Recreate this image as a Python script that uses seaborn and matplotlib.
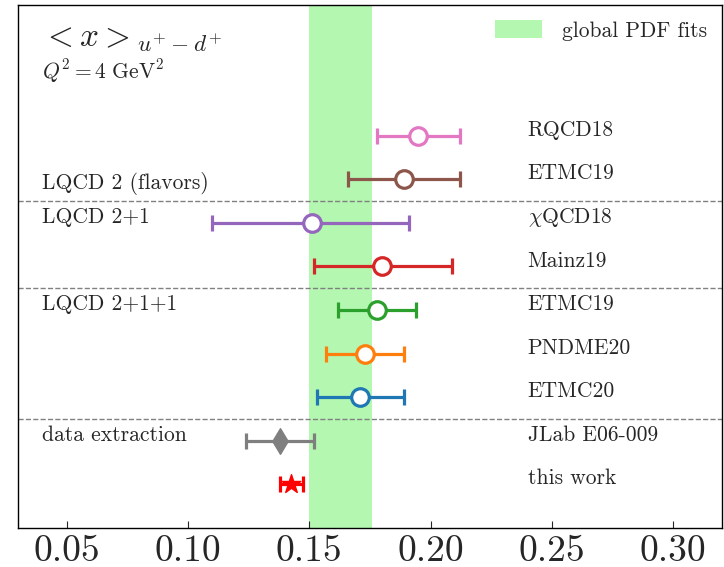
import matplotlib
matplotlib.use("Agg")
import matplotlib.pyplot as plt
import seaborn as sns
import pandas as pd
import numpy as np

# ---- data ----
labels = ["RQCD18", "ETMC19", r"$\chi$QCD18", "Mainz19", "ETMC19",
          "PNDME20", "ETMC20", "JLab E06-009", "this work"]
values = [0.195, 0.189, 0.151, 0.180, 0.178, 0.173, 0.171, 0.138, 0.1425]
err_lo = [0.017, 0.023, 0.041, 0.028, 0.016, 0.016, 0.018, 0.014, 0.0045]
err_hi = [0.017, 0.023, 0.040, 0.029, 0.016, 0.016, 0.018, 0.014, 0.0050]
colors = ["#e377c2", "#8c564b", "#9467bd", "#d62728", "#2ca02c",
          "#ff7f0e", "#1f77b4", "#7f7f7f", "#ff0000"]
markers = ["o", "o", "o", "o", "o", "o", "o", "d", "*"]
filled = [False] * 7 + [True, True]
rows = [8, 7, 6, 5, 4, 3, 2, 1, 0]
group_labels = ["LQCD 2 (flavors)", "LQCD 2+1", "LQCD 2+1+1", "data extraction"]
group_rows = [6.91, 6.13, 4.13, 1.12]
separators = [6.5, 4.5, 1.5]
band = (0.150, 0.176)
xticks = [0.05, 0.10, 0.15, 0.20, 0.25, 0.30]

sns.set_style("white")
plt.rcParams["font.family"] = ["cmr10", "DejaVu Serif"]
plt.rcParams["mathtext.fontset"] = "cm"
plt.rcParams["axes.formatter.use_mathtext"] = True

df = pd.DataFrame({"label": labels, "value": values, "lo": err_lo, "hi": err_hi,
                   "row": rows, "color": colors, "marker": markers, "filled": filled})

fig, ax = plt.subplots(figsize=(7.24, 5.67), dpi=100)
fig.subplots_adjust(left=0.025, right=0.997, top=0.991, bottom=0.069)

ax.axvspan(band[0], band[1], color="#b3f7b0", lw=0, zorder=0, label="global PDF fits")

for _, r in df.iterrows():
    ax.errorbar(r["value"], r["row"], xerr=[[r["lo"]], [r["hi"]]], fmt="none",
                ecolor=r["color"], elinewidth=2.3, capsize=5.5, capthick=2.3, zorder=2)
    sub = df[df["label"].eq(r["label"]) & df["row"].eq(r["row"])]
    if r["filled"]:
        sns.scatterplot(data=sub, x="value", y="row", ax=ax, marker=r["marker"],
                        s=200 if r["marker"] == "*" else 170, color=r["color"],
                        edgecolor=r["color"], linewidth=1, zorder=3, legend=False)
    else:
        sns.scatterplot(data=sub, x="value", y="row", ax=ax, marker="o", s=160,
                        facecolor="white", edgecolor=r["color"], linewidth=2.3,
                        zorder=3, legend=False)
    ax.text(0.24, r["row"] + 0.13, r["label"], fontsize=15.5, va="center", ha="left")

for y in separators:
    ax.axhline(y, color="gray", ls="--", lw=1, zorder=1)

for t, y in zip(group_labels, group_rows):
    ax.text(0.04, y, t, fontsize=15.5, va="center", ha="left")

ax.text(0.04, 10.2, r"$<x>_{u^{+}-d^{+}}$", fontsize=24, va="center", ha="left")
ax.text(0.04, 9.48, r"$Q^2 = 4\ \mathrm{GeV}^2$", fontsize=15.5, va="center", ha="left")

ax.set_xlim(0.03, 0.32)
ax.set_ylim(-1, 11)
ax.set_yticks([])
ax.set_xticks(xticks)
ax.set_xticklabels([f"{v:.2f}" for v in xticks])
ax.tick_params(axis="x", direction="in", length=5, labelsize=27, bottom=True, pad=5)
ax.set_xlabel("")
ax.set_ylabel("")
for s in ax.spines.values():
    s.set_color("black")
    s.set_linewidth(1)

ax.legend(loc="upper right", frameon=False, fontsize=15.5, handlelength=2.2,
          handleheight=0.9, handletextpad=0.9, borderaxespad=0.3)

fig.savefig("out.png", dpi=100)
